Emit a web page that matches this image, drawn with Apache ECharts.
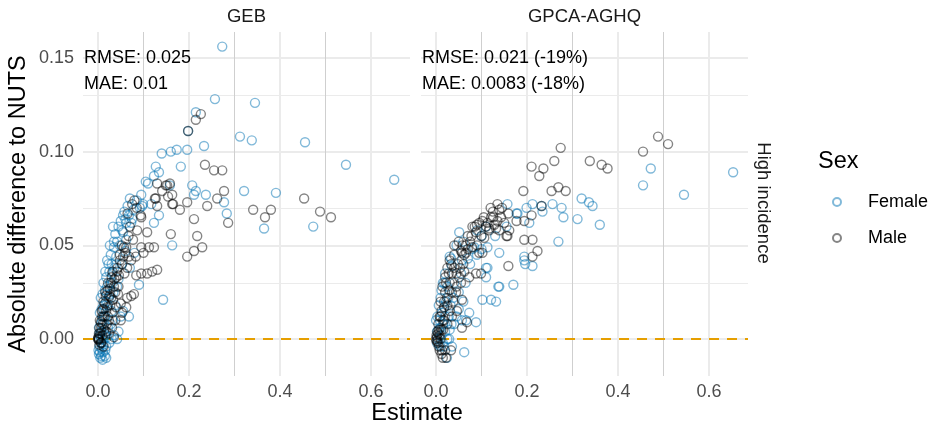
<!DOCTYPE html>
<html>
<head>
<meta charset="utf-8">
<script src="https://cdn.jsdelivr.net/npm/echarts@6/dist/echarts.min.js"></script>
<style>html,body{margin:0;padding:0;background:#fff}#c{width:932px;height:430px}</style>
</head>
<body>
<div id="c"></div>
<script>
// ---- data ----
const panels = ['GEB', 'GPCA-AGHQ'];
const rowLabel = 'High incidence';
const sexes = ['Female', 'Male'];
const xTicks = [0, 0.2, 0.4, 0.6];
const xMinor = [0.1, 0.3, 0.5];
const yTicks = [0, 0.05, 0.10, 0.15];
const yMinor = [0.025, 0.075, 0.125];
const annotations = [
  ['RMSE: 0.025', 'MAE: 0.01'],
  ['RMSE: 0.021 (-19%)', 'MAE: 0.0083 (-18%)']
];

const gebFemale = [
[0.273,0.156],[0.257,0.128],[0.345,0.126],[0.312,0.108],[0.338,0.106],[0.455,0.105],[0.545,0.093],[0.651,0.085],[0.321,0.079],[0.391,0.078],
[0.233,0.103],[0.215,0.121],[0.198,0.111],[0.196,0.101],[0.182,0.092],[0.16,0.1],[0.173,0.101],[0.14,0.099],[0.127,0.092],[0.105,0.084],
[0.095,0.077],[0.207,0.082],[0.215,0.079],[0.211,0.077],[0.237,0.077],[0.277,0.073],[0.283,0.067],[0.097,0.071],[0.117,0.072],[0.158,0.082],
[0.123,0.062],[0.134,0.066],[0.055,0.066],[0.062,0.062],[0.073,0.062],[0.053,0.058],[0.035,0.049],[0.062,0.053],[0.163,0.05],[0.143,0.021],
[0.365,0.059],[0.473,0.06],[0.09,0.029],[0.068,0.012],[0.042,0.0],[0.018,-0.01],[0.134,0.089],[0.123,0.087],[0.11,0.083],[0.092,0.07],[0.099,0.072],
[0.002,-0.008],[0.005,-0.01],[0.01,-0.011],[0.015,-0.009],[0.003,-0.004],[0.008,-0.005],[0.012,-0.003],[0.018,-0.004],[0.025,-0.002],[0.001,0.0],
[0.004,0.002],[0.007,0.004],[0.01,0.001],[0.014,0.003],[0.02,0.001],[0.03,0.0],[0.035,0.002],[0.002,0.006],[0.006,0.008],[0.009,0.01],
[0.013,0.008],[0.016,0.012],[0.022,0.006],[0.028,0.008],[0.033,0.01],[0.045,0.004],[0.05,0.012],[0.004,0.014],[0.008,0.016],[0.012,0.018],
[0.018,0.02],[0.024,0.022],[0.03,0.015],[0.038,0.018],[0.055,0.015],[0.006,0.022],[0.01,0.024],[0.015,0.026],[0.02,0.028],[0.026,0.03],
[0.034,0.025],[0.042,0.028],[0.012,0.03],[0.018,0.033],[0.025,0.036],[0.03,0.04],[0.036,0.038],[0.045,0.032],[0.02,0.042],[0.028,0.045],
[0.035,0.052],[0.04,0.044],[0.052,0.04],[0.038,0.056],[0.045,0.06],[0.05,0.063],[0.058,0.068],[0.065,0.071],[0.07,0.075],[0.078,0.069],
[0.08,0.046],[0.06,0.047],[0.07,0.038],
[0.001,-0.006],[0.004,-0.007],[0.007,-0.009],[0.011,-0.007],[0.016,-0.006],[0.006,0.0],[0.009,-0.002],[0.013,0.0],[0.017,0.002],[0.003,0.003],
[0.011,0.012],[0.014,0.016],[0.019,0.024],[0.022,0.018],[0.027,0.024],[0.032,0.03],[0.016,0.036],[0.023,0.04],[0.031,0.035],[0.04,0.04],
[0.026,0.05],[0.033,0.06],[0.042,0.052],[0.048,0.05],[0.055,0.057],[0.06,0.064],[0.068,0.066],[0.075,0.064],[0.085,0.074]
];
const gebMale = [
[0.226,0.12],[0.215,0.117],[0.198,0.111],[0.235,0.093],[0.255,0.09],[0.273,0.09],[0.277,0.079],[0.262,0.075],[0.24,0.071],[0.196,0.073],
[0.18,0.069],[0.163,0.077],[0.163,0.072],[0.152,0.082],[0.141,0.079],[0.13,0.083],[0.127,0.075],[0.13,0.071],[0.095,0.065],[0.108,0.057],
[0.16,0.056],[0.211,0.064],[0.218,0.055],[0.229,0.049],[0.211,0.047],[0.196,0.044],[0.086,0.058],[0.077,0.053],[0.062,0.049],[0.095,0.049],
[0.112,0.049],[0.123,0.049],[0.286,0.062],[0.453,0.075],[0.341,0.069],[0.38,0.069],[0.367,0.065],[0.488,0.068],[0.512,0.065],[0.149,0.082],
[0.158,0.083],[0.154,0.076],[0.165,0.072],[0.094,0.066],[0.125,0.075],
[0.13,0.037],[0.119,0.036],[0.108,0.035],[0.095,0.035],[0.084,0.034],[0.079,0.024],[0.073,0.023],[0.064,0.022],[0.062,0.017],[0.053,0.014],
[0.05,0.01],[0.042,0.036],[0.046,0.034],[0.053,0.04],[0.064,0.038],[0.04,0.033],[0.035,0.028],[0.029,0.022],[0.02,0.017],[0.013,0.012],
[0.007,0.006],[0.002,0.0],[0,0],[0.001,0.0005],[0.0015,-0.0005],[0.0005,0.001],[0.031,0.014],[0.04,0.017],[0.05,0.019],[0.024,0.01],
[0.031,0.006],[0.024,0.003],[0.035,0.001],[0.057,0.049],[0.1,0.046],[0.073,0.042],[0.083,0.044],[0.016,0.025],[0.022,0.03],[0.026,0.027],
[0.03,0.033],[0.018,0.015],[0.01,0.008],[0.005,0.003],[0.012,0.02],[0.008,0.015],[0.004,0.01],[0.003,-0.003],[0.006,-0.002],[0.014,0.005],
[0.019,0.008],[0.027,0.018],[0.033,0.021],[0.038,0.025],[0.045,0.028],[0.048,0.045],[0.052,0.05],[0.067,0.055],[0.07,0.06],[0.085,0.07],
[0.075,0.072],[0.08,0.074],[0.065,0.067],
[0.002,0.003],[0.003,0.006],[0.006,0.009],[0.009,0.012],[0.011,0.016],[0.015,0.019],[0.017,0.023],[0.021,0.026],[0.025,0.023],[0.028,0.03],
[0.032,0.036],[0.036,0.032],[0.043,0.038],[0.048,0.042],[0.055,0.044],[0.06,0.046],[0.068,0.044],[0.058,0.035],[0.044,0.024],[0.01,0.002],
[0.007,-0.002],[0.012,-0.004],[0.018,0.004],[0.022,0.012],[0.038,0.01]
];
const gpcaFemale = [
[0.472,0.091],[0.455,0.082],[0.653,0.089],[0.545,0.077],[0.32,0.075],[0.336,0.073],[0.344,0.071],[0.36,0.061],[0.311,0.064],[0.28,0.065],
[0.276,0.07],[0.256,0.072],[0.234,0.068],[0.232,0.071],[0.212,0.072],[0.199,0.07],[0.205,0.062],[0.179,0.067],[0.157,0.072],[0.051,0.057],
[0.269,0.052],[0.137,0.028],[0.17,0.029],[0.102,0.021],[0.121,0.021],[0.132,0.02],[0.194,0.042],[0.196,0.04],[0.212,0.039],[0.088,0.009],
[0.062,-0.007],[0.035,-0.004],[0.024,-0.01],[0.11,0.038],[0.073,0.014],[0.066,0.01],[0.139,0.028],[0.194,0.044],[0.033,0.043],[0.057,0.042],
[0.035,0.039],[0.018,0.03],[0.018,0.017],[0.0,0.01],[0.002,0.004],[0.057,0.01],[0.029,0.0],[0.018,-0.004],[0.113,0.038],[0.11,0.033],
[0.084,0.049],[0.113,0.049],[0.139,0.046],[0.09,0.058],[0.11,0.06],[0.155,0.06],[0.177,0.067],[0.13,0.055],
[0.002,-0.002],[0.005,0.005],[0.008,0.01],[0.01,0.006],[0.003,0.012],[0.006,0.018],[0.01,0.022],[0.012,0.026],[0.015,0.03],[0.02,0.035],
[0.01,-0.004],[0.015,-0.002],[0.02,0.004],[0.025,0.0],[0.03,0.005],[0.04,0.008],[0.045,0.012],[0.05,0.016],[0.028,0.012],[0.032,0.018],
[0.038,0.022],[0.06,0.02],[0.03,0.044],[0.025,0.028],[0.04,0.03],[0.045,0.05],[0.07,0.043],[0.08,0.048],[0.1,0.055],
[0.004,0.0],[0.007,-0.003],[0.012,0.002],[0.013,0.014],[0.016,0.008],[0.02,0.012],[0.022,0.02],[0.027,0.022],[0.034,0.008],[0.05,0.025],
[0.055,0.035],[0.065,0.03],[0.075,0.04],[0.09,0.045],[0.06,0.052],[0.1,0.048]
];
const gpcaMale = [
[0.488,0.108],[0.51,0.104],[0.455,0.1],[0.274,0.102],[0.26,0.095],[0.21,0.092],[0.236,0.091],[0.227,0.087],[0.338,0.095],[0.364,0.093],
[0.377,0.091],[0.192,0.079],[0.254,0.079],[0.269,0.081],[0.285,0.079],[0.232,0.071],[0.21,0.066],[0.194,0.063],[0.177,0.063],[0.159,0.067],
[0.139,0.069],[0.126,0.065],[0.135,0.063],[0.117,0.059],[0.106,0.054],[0.09,0.061],[0.088,0.057],[0.194,0.053],[0.212,0.053],[0.223,0.047],
[0.212,0.044],[0.157,0.055],[0.139,0.058],[0.159,0.039],
[0.057,0.046],[0.079,0.049],[0.102,0.046],[0.035,0.035],[0.051,0.033],[0.073,0.033],[0.088,0.035],[0.099,0.035],[0.029,0.026],[0.044,0.025],
[0.057,0.021],[0.046,0.015],[0.035,0.012],[0.018,0.017],[0.024,0.022],[0.068,0.009],[0.057,0.006],[0.033,-0.006],[0.022,-0.01],[0.013,-0.006],
[0.055,0.047],[0.066,0.046],[0.095,0.046],[0.117,0.058],[0.102,0.063],[0.121,0.065],[0.143,0.065],[0.15,0.062],[0.161,0.058],[0.155,0.055],
[0.132,0.059],[0.128,0.061],[0.113,0.062],
[0,0],[0.002,0.001],[0.003,-0.001],[0.001,0.002],[0.004,-0.002],[0.005,0.003],[0.006,-0.004],[0.008,-0.006],[0.01,0.0],[0.012,-0.008],
[0.015,-0.01],[0.02,-0.006],[0.005,0.008],[0.008,0.012],[0.012,0.015],[0.015,0.01],[0.018,0.02],[0.02,0.025],[0.025,0.018],[0.01,0.02],
[0.014,0.028],[0.02,0.033],[0.025,0.038],[0.03,0.03],[0.035,0.025],[0.03,0.042],[0.04,0.038],[0.045,0.035],[0.04,0.05],[0.05,0.052],
[0.06,0.04],[0.065,0.05],[0.07,0.055],[0.075,0.052],[0.085,0.06],[0.095,0.062],[0.105,0.065],[0.025,0.008],[0.03,0.015],[0.038,0.02],
[0.045,0.028],[0.055,0.03],[0.062,0.036],[0.01,0.012],[0.007,0.005],[0.001,-0.001],[0.003,0.004],[0.016,0.005],
[0.04,0.045],[0.048,0.04],[0.053,0.038],[0.058,0.05],[0.062,0.045],[0.07,0.048],[0.078,0.055],[0.08,0.06],[0.09,0.05],[0.1,0.055],
[0.11,0.06],[0.12,0.07],[0.125,0.068],[0.135,0.072],[0.145,0.07],[0.022,0.03],[0.028,0.035],[0.033,0.04],[0.018,0.01],[0.012,0.005],[0.008,0.002]
];
const panelData = [[gebFemale, gebMale], [gpcaFemale, gpcaMale]];

// ---- styling ----
const FONT = 'Liberation Sans, Arial, Helvetica, sans-serif';
const sexColors = ['rgba(0,114,178,0.62)', 'rgba(0,0,0,0.6)'];
const refColor = '#E69F00';
const grids = [{left: 83, top: 32, width: 327, height: 344}, {left: 421, top: 32, width: 327, height: 344}];
const xMin = -0.033, xMax = 0.6857, yMin = -0.0197, yMax = 0.1638;

const xAxes = [], yAxes = [], series = [];
grids.forEach((g, i) => {
  xAxes.push({
    type: 'value', gridIndex: i, min: xMin, max: xMax,
    axisLine: {show: false}, axisTick: {show: false}, splitLine: {show: false},
    axisLabel: {customValues: xTicks, formatter: v => v.toFixed(1), color: '#4d4d4d', fontSize: 18, fontFamily: FONT, margin: 7}
  });
  yAxes.push({
    type: 'value', gridIndex: i, min: yMin, max: yMax,
    axisLine: {show: false}, axisTick: {show: false}, splitLine: {show: false},
    axisLabel: {show: i === 0, customValues: yTicks, formatter: v => v.toFixed(2), color: '#4d4d4d', fontSize: 18, fontFamily: FONT, margin: 9}
  });
  const gridLines = [];
  yMinor.forEach(v => gridLines.push({yAxis: v, lineStyle: {color: '#ebebeb', width: 1, type: 'solid'}}));
  yTicks.forEach(v => gridLines.push({yAxis: v, lineStyle: {color: '#ebebeb', width: 2, type: 'solid'}}));
  xMinor.forEach(v => gridLines.push({xAxis: v, lineStyle: {color: '#cfcfcf', width: 1, type: 'solid'}}));
  xTicks.forEach(v => gridLines.push({xAxis: v, lineStyle: {color: '#ebebeb', width: 2, type: 'solid'}}));
  series.push({
    type: 'scatter', xAxisIndex: i, yAxisIndex: i, data: [], silent: true, z: 1,
    markLine: {silent: true, symbol: ['none', 'none'], label: {show: false}, z: 1, animation: false, data: gridLines}
  });
  series.push({
    type: 'scatter', xAxisIndex: i, yAxisIndex: i, data: [], silent: true, z: 2,
    markLine: {silent: true, symbol: ['none', 'none'], label: {show: false}, z: 2, animation: false,
      data: [{yAxis: 0, lineStyle: {color: refColor, width: 2, type: [10, 8]}}]}
  });
  sexes.forEach((s, k) => {
    series.push({
      name: s, type: 'scatter', xAxisIndex: i, yAxisIndex: i, z: 3,
      symbol: 'circle', symbolSize: 9,
      itemStyle: {color: 'rgba(0,0,0,0)', borderColor: sexColors[k], borderWidth: 1.4},
      data: panelData[i][k]
    });
  });
});

const graphics = [];
grids.forEach((g, i) => {
  graphics.push({type: 'text', z: 100, x: g.left + g.width / 2, y: 17,
    style: {text: panels[i], fill: '#1a1a1a', font: '18.5px ' + FONT, textAlign: 'center', textVerticalAlign: 'middle'}});
  graphics.push({type: 'text', z: 100, x: g.left + 1, y: 58,
    style: {text: annotations[i][0], fill: '#000', font: '18px ' + FONT, textAlign: 'left', textVerticalAlign: 'middle'}});
  graphics.push({type: 'text', z: 100, x: g.left + 1, y: 84,
    style: {text: annotations[i][1], fill: '#000', font: '18px ' + FONT, textAlign: 'left', textVerticalAlign: 'middle'}});
});
graphics.push({type: 'text', z: 100, x: 763, y: 203, rotation: -Math.PI / 2,
  style: {text: rowLabel, fill: '#1a1a1a', font: '18.5px ' + FONT, textAlign: 'center', textVerticalAlign: 'middle'}});
graphics.push({type: 'text', z: 100, x: 19, y: 204, rotation: Math.PI / 2,
  style: {text: 'Absolute difference to NUTS', fill: '#000', font: '23.5px ' + FONT, textAlign: 'center', textVerticalAlign: 'middle'}});
graphics.push({type: 'text', z: 100, x: 417, y: 414,
  style: {text: 'Estimate', fill: '#000', font: '23.5px ' + FONT, textAlign: 'center', textVerticalAlign: 'middle'}});
graphics.push({type: 'text', z: 100, x: 818, y: 162,
  style: {text: 'Sex', fill: '#000', font: '23.5px ' + FONT, textAlign: 'left', textVerticalAlign: 'middle'}});

const chart = echarts.init(document.getElementById('c'), null, {renderer: 'canvas'});
chart.setOption({
  animation: false,
  backgroundColor: '#fff',
  grid: grids,
  xAxis: xAxes,
  yAxis: yAxes,
  legend: {
    data: sexes, orient: 'vertical', left: 827, top: 188, itemWidth: 8, itemHeight: 8, itemGap: 18,
    selectedMode: false,
    textStyle: {fontSize: 18, fontFamily: FONT, color: '#000', padding: [0, 0, 0, 22]}
  },
  graphic: graphics,
  series: series
});
</script>
</body>
</html>
